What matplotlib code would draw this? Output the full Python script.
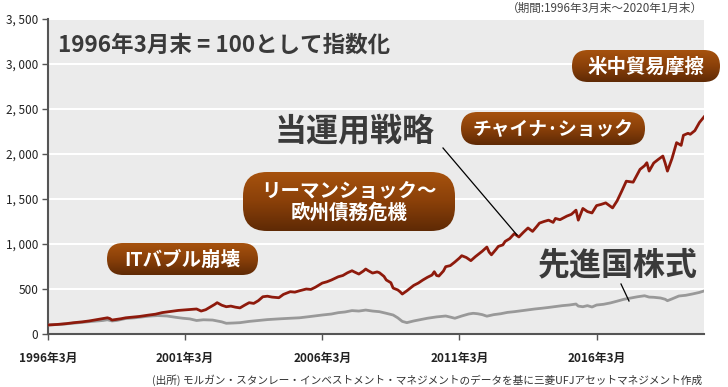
import numpy as np
import matplotlib
matplotlib.use("Agg")
import matplotlib.pyplot as plt
from matplotlib.patches import FancyBboxPatch
from matplotlib.colors import LinearSegmentedColormap

plt.rcParams['font.family'] = ['Noto Sans CJK JP', 'DejaVu Sans']

# months since 1996/3 and index values (1996/3 = 100)
strategy_months = [0, 4, 8, 11, 15, 18, 21, 24, 26, 27, 28, 30, 32, 34, 37, 40, 44, 47, 50, 53,
                   55, 57, 59, 61, 63, 65, 67, 69, 71, 73, 74, 76, 78, 80, 82, 84, 86, 88, 90, 92,
                   94, 96, 98, 101, 103, 106, 108, 110, 113, 115, 117, 120, 122, 124, 127, 129, 131, 133, 134, 136,
                   138, 139, 140, 142, 144, 145, 147, 148, 150, 151, 153, 154, 155, 157, 160, 162, 164, 166, 168, 169,
                   170, 171, 173, 174, 176, 178, 180, 181, 183, 184, 185, 187, 188, 190, 192, 193, 194, 196, 197, 199,
                   200, 202, 204, 206, 208, 210, 212, 214, 215, 217, 219, 221, 222, 224, 227, 229, 231, 232, 233, 234,
                   236, 238, 240, 242, 244, 246, 247, 249, 251, 253, 255, 256, 258, 259, 261, 262, 263, 265, 267, 269,
                   270, 271, 273, 275, 277, 278, 280, 281, 283, 285, 287]
strategy_values = [100, 106, 115, 125, 135, 145, 158, 170, 180, 172, 155, 162, 170, 180, 188, 195, 210, 220, 238, 248,
                   255, 262, 266, 270, 275, 278, 255, 270, 300, 330, 348, 320, 303, 310, 298, 290, 320, 348, 340, 370,
                   414, 420, 410, 403, 440, 470, 465, 480, 500, 495, 520, 566, 580, 600, 636, 650, 680, 703, 690, 666,
                   700, 722, 705, 677, 690, 681, 640, 600, 570, 510, 490, 470, 444, 480, 540, 566, 600, 630, 655, 692,
                   650, 644, 700, 748, 760, 800, 844, 870, 850, 833, 815, 860, 880, 920, 966, 910, 880, 940, 973, 990,
                   1029, 1060, 1115, 1078, 1130, 1178, 1140, 1200, 1232, 1250, 1265, 1240, 1284, 1270, 1310, 1330, 1376, 1265, 1330, 1395,
                   1360, 1345, 1427, 1440, 1457, 1420, 1401, 1480, 1587, 1698, 1690, 1687, 1780, 1829, 1870, 1903, 1810, 1900, 1940, 1977,
                   1900, 1810, 1950, 2126, 2096, 2208, 2230, 2219, 2260, 2350, 2412]

world_months = [0, 6, 12, 18, 24, 26, 28, 30, 34, 38, 44, 48, 52, 56, 59, 62, 65, 68, 72, 76,
                78, 81, 84, 88, 92, 96, 101, 106, 110, 114, 120, 124, 127, 130, 133, 136, 139, 142, 145, 148,
                151, 153, 155, 157, 160, 163, 166, 170, 174, 176, 178, 181, 184, 186, 188, 190, 192, 195, 198, 201,
                204, 207, 210, 213, 216, 219, 222, 225, 228, 231, 232, 234, 236, 238, 240, 243, 246, 249, 252, 255,
                258, 261, 263, 265, 268, 270, 271, 273, 276, 279, 282, 285, 287]
world_values = [100, 108, 122, 137, 150, 158, 145, 150, 172, 180, 198, 205, 200, 185, 175, 168, 150, 158, 155, 135,
                119, 122, 126, 140, 150, 160, 168, 175, 180, 192, 211, 222, 237, 245, 260, 255, 266, 255, 248, 230,
                211, 180, 140, 126, 145, 160, 175, 190, 200, 188, 175, 200, 222, 230, 225, 215, 198, 215, 225, 240,
                248, 258, 268, 278, 286, 295, 305, 315, 322, 333, 310, 303, 315, 300, 322, 330, 345, 365, 386, 400,
                414, 425, 410, 408, 400, 386, 370, 390, 422, 430, 445, 462, 478]

yticks = [0, 500, 1000, 1500, 2000, 2500, 3000, 3500]
xtick_months = [0, 60, 120, 180, 240]
xtick_labels = ['1996年3月', '2001年3月', '2006年3月', '2011年3月', '2016年3月']

W, H = 728, 387
fig = plt.figure(figsize=(W / 100, H / 100), dpi=100)
ax = fig.add_axes([48 / W, 1 - 334 / H, (704 - 48) / W, (334 - 19) / H])
ax.set_facecolor('#ebebeb')

ax.plot(world_months, world_values, color='#999999', lw=2, zorder=3)
ax.plot(strategy_months, strategy_values, color='#8e1a0c', lw=2, zorder=4)

ax.set_xlim(0, 287)
ax.set_ylim(0, 3500)
ax.set_yticks(yticks)
ax.set_yticklabels([f'{v:,}'.replace(',', ', ') for v in yticks], fontsize=8.5, color='#222222')
ax.set_xticks(xtick_months)
ax.set_xticklabels(xtick_labels, fontsize=8.5, fontweight='bold', color='#222222')
ax.tick_params(axis='both', length=4, width=1, color='#555555', pad=3)
ax.tick_params(axis='x', pad=9)
ax.grid(axis='y', color='white', lw=1.5)
ax.set_axisbelow(True)
for s in ['top', 'right']:
    ax.spines[s].set_visible(False)
for s in ['left', 'bottom']:
    ax.spines[s].set_color('#555555')
    ax.spines[s].set_linewidth(1.5)

# overlay in pixel coordinates for annotations
ov = fig.add_axes([0, 0, 1, 1], facecolor='none')
ov.set_xlim(0, W)
ov.set_ylim(H, 0)
ov.axis('off')

brown = LinearSegmentedColormap.from_list('brown', ['#a6520e', '#8a4009', '#5f2a05'])
grad = np.linspace(0, 1, 64).reshape(-1, 1)


def pill(x0, y0, x1, y1, text, size, r=None):
    h = y1 - y0
    r = h / 2 if r is None else r
    patch = FancyBboxPatch((x0, y0), x1 - x0, h,
                           boxstyle=f'round,pad=0,rounding_size={r}',
                           fc='none', ec='none')
    ov.add_patch(patch)
    im = ov.imshow(grad, extent=(x0, x1, y1, y0), cmap=brown, aspect='auto',
                   origin='upper', zorder=5)
    im.set_clip_path(patch)
    ov.text((x0 + x1) / 2, (y0 + y1) / 2 + 1, text, color='white', fontsize=size,
            fontweight='bold', ha='center', va='center', zorder=6, linespacing=1.15)


pill(107, 243, 258, 275, 'ITバブル崩壊', 14)
pill(243, 172, 455, 231, 'リーマンショック～\n欧州債務危機', 14, r=24)
pill(461, 112, 645, 145, 'チャイナ·ショック', 13.5)
pill(572, 50, 720, 82, '米中貿易摩擦', 14)

ov.text(58, 45, '1996年3月末 = 100として指数化', fontsize=16.2, fontweight='bold',
        color='#3a3a3a', ha='left', va='center')
ov.text(355, 131, '当運用戦略', fontsize=23, fontweight='bold', color='#3a3a3a',
        ha='center', va='center')
ov.text(618, 265, '先進国株式', fontsize=23, fontweight='bold', color='#3a3a3a',
        ha='center', va='center')
ov.plot([443, 517], [148, 235], color='black', lw=0.9, zorder=7)
ov.plot([621, 629], [284, 301], color='black', lw=0.9, zorder=7)

ov.text(703, 8, '（期間:1996年3月末～2020年1月末）', fontsize=8.4, color='#444444',
        ha='right', va='center')
ov.text(702, 380, '(出所) モルガン・スタンレー・インベストメント・マネジメントのデータを基に三菱UFJアセットマネジメント作成',
        fontsize=7.7, color='#333333', ha='right', va='center')

ov.set_xlim(0, W)
ov.set_ylim(H, 0)

fig.savefig('out.png', dpi=100)
